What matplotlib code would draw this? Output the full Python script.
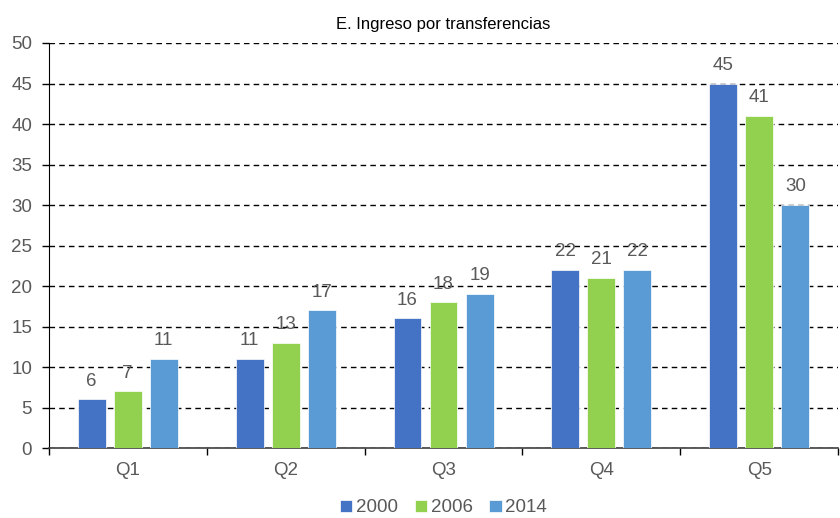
import numpy as np
import matplotlib
matplotlib.use("Agg")
from matplotlib import pyplot as plt

plt.rcParams["font.family"] = ["Liberation Sans", "DejaVu Sans"]

title = "E. Ingreso por transferencias"
categories = ["Q1", "Q2", "Q3", "Q4", "Q5"]
years = ["2000", "2006", "2014"]
values_2000 = [6, 11, 16, 22, 45]
values_2006 = [7, 13, 18, 21, 41]
values_2014 = [11, 17, 19, 22, 30]
colors = ["#4472C4", "#92D050", "#5B9BD5"]
textColor = "#595959"

fig = plt.figure(figsize=(8.4, 5.18), dpi=100)
ax = fig.add_axes([0.058, 0.135, 0.94, 0.782])

x = np.arange(len(categories))
width = 0.177
step = 0.228
series = [values_2000, values_2006, values_2014]
for i, (vals, year, color) in enumerate(zip(series, years, colors)):
    bars = ax.bar(x + (i - 1) * step, vals, width, color=color, label=year,
                  edgecolor="white", linewidth=0.5, zorder=3)
    ax.bar_label(bars, labels=[str(v) for v in vals], padding=7,
                 fontsize=13.5, color=textColor)

ax.set_xlim(-0.5, len(categories) - 0.5)
ax.set_ylim(0, 50)
ax.set_yticks(range(0, 51, 5))
ax.yaxis.grid(True, linestyle=(0, (4, 3)), color="black", linewidth=1.0, zorder=0)
ax.tick_params(axis="y", labelsize=13.5, labelcolor=textColor, length=5,
               width=1, direction="out", pad=7)

# category labels centred, tick marks on category boundaries
ax.set_xticks(np.arange(-0.5, len(categories), 1.0))
ax.set_xticklabels([])
ax.set_xticks(x, minor=True)
ax.set_xticklabels(categories, minor=True)
ax.tick_params(axis="x", which="major", length=5, width=1, direction="out")
ax.tick_params(axis="x", which="minor", length=0, labelsize=13.5,
               labelcolor=textColor, pad=10)

for side in ["top", "right"]:
    ax.spines[side].set_visible(False)
ax.spines["left"].set_color("black")
ax.spines["bottom"].set_color("#404040")
ax.spines["bottom"].set_linewidth(1.2)

ax.set_title(title, fontsize=12, color="black", pad=10)

ax.legend(loc="upper center", bbox_to_anchor=(0.5, -0.085), ncol=3, frameon=False,
          fontsize=13.5, labelcolor=textColor, handlelength=0.65, handleheight=0.65,
          handletextpad=0.2, columnspacing=0.9)

fig.savefig("out.png", dpi=100)
